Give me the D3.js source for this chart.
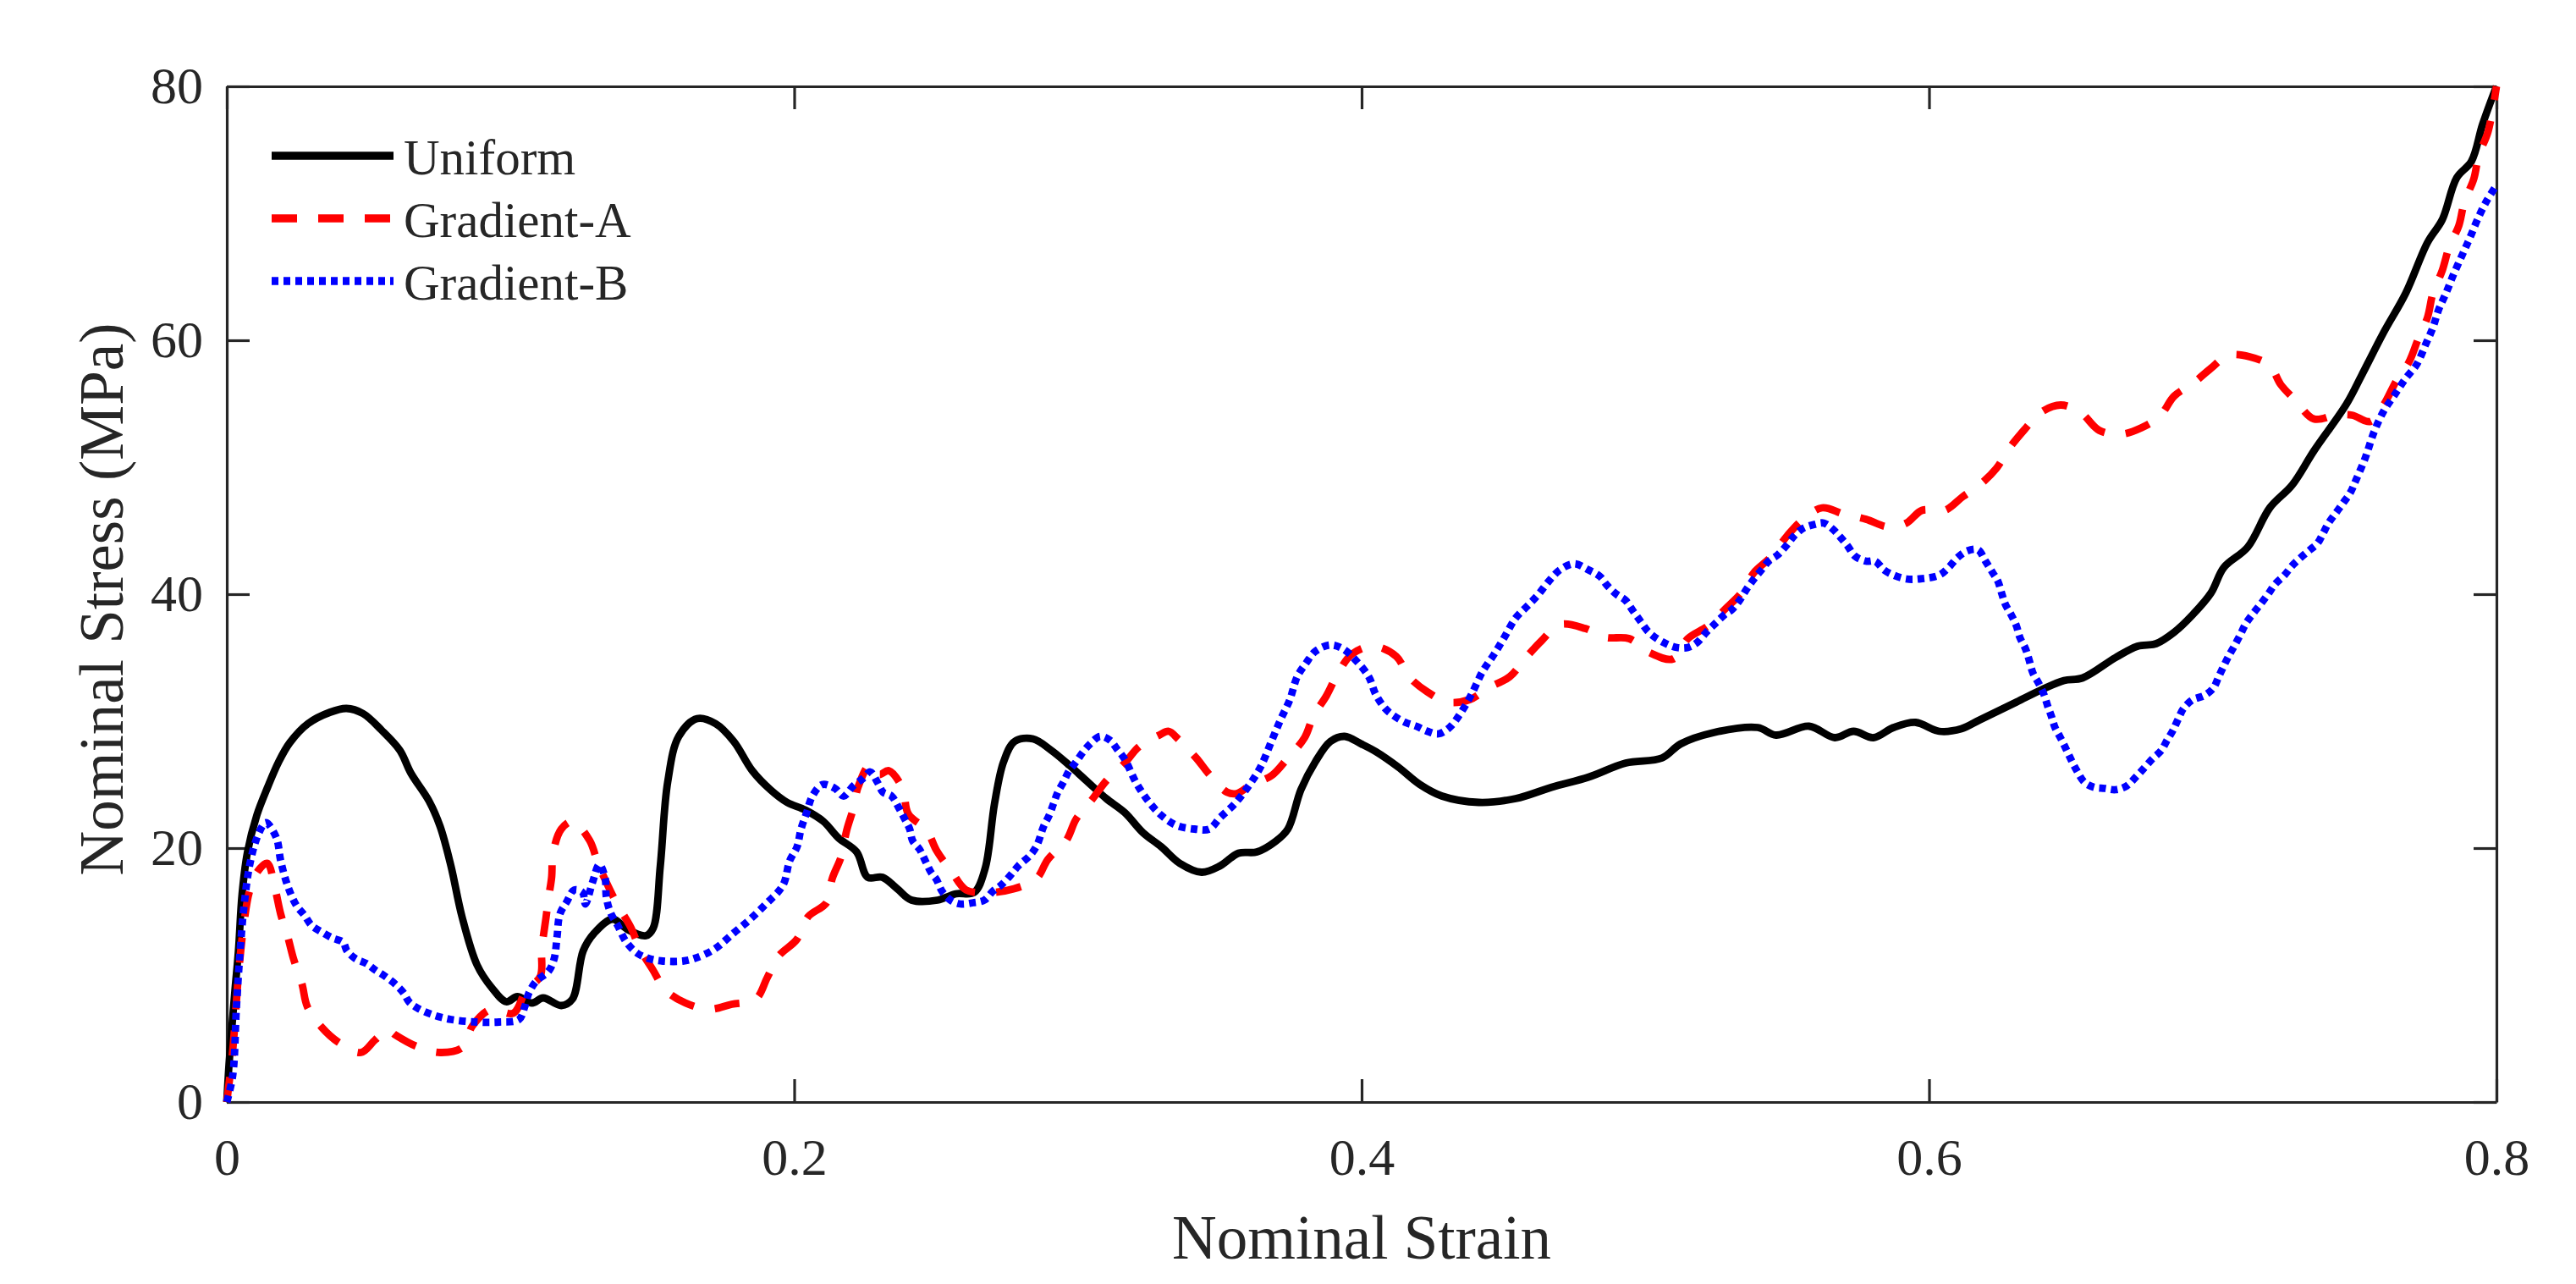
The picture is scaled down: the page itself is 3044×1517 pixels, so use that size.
<!DOCTYPE html>
<html>
<head>
<meta charset="utf-8">
<script src="https://cdn.jsdelivr.net/npm/d3@7/dist/d3.min.js"></script>
<style>
  html, body { margin: 0; padding: 0; background: #ffffff; }
  svg { display: block; }
  text { font-family: "Liberation Serif", "Times New Roman", "DejaVu Serif", serif; fill: #262626; }
</style>
</head>
<body>
<svg id="chart" width="3044" height="1517"></svg>
<script>
// ---------------- data ----------------
const xTicks = [0, 0.2, 0.4, 0.6, 0.8];
const yTicks = [0, 20, 40, 60, 80];
const seriesNames = ["Uniform", "Gradient-A", "Gradient-B"];

const uniformStrain = [0,0.0008,0.0028,0.0041,0.0054,0.0073,0.0106,0.0144,0.0183,0.0222,0.0286,0.0364,0.0422,0.048,0.0545,0.061,0.0649,0.0713,0.0752,0.079,0.0829,0.0882,0.0934,0.0985,0.1024,0.1076,0.1115,0.1179,0.1218,0.1256,0.1295,0.136,0.1412,0.1477,0.1503,0.1528,0.1554,0.1593,0.1658,0.1723,0.1787,0.1852,0.1916,0.1975,0.2039,0.2103,0.2156,0.222,0.2259,0.2311,0.2363,0.2414,0.2505,0.257,0.2634,0.2673,0.2706,0.2738,0.2777,0.2842,0.2906,0.2971,0.3035,0.31,0.3165,0.323,0.3294,0.3359,0.3436,0.3501,0.3566,0.3631,0.3695,0.374,0.3786,0.3837,0.389,0.394,0.3999,0.405,0.4128,0.4206,0.4283,0.4413,0.4543,0.4671,0.4801,0.4931,0.5059,0.5124,0.5241,0.5396,0.5461,0.5577,0.5668,0.5734,0.5804,0.5875,0.5953,0.6036,0.6114,0.6179,0.6308,0.6399,0.6476,0.6541,0.6657,0.6735,0.68,0.6864,0.693,0.6994,0.7039,0.7123,0.7201,0.728,0.7357,0.7472,0.7524,0.7602,0.768,0.7757,0.7809,0.786,0.7912,0.7951,0.8];
const uniformStress = [0,3.0,8.6,11.9,16.4,19.7,22.6,24.8,26.8,28.3,29.8,30.7,31.0,30.6,29.3,27.7,25.9,23.7,21.7,18.6,14.6,10.8,9.0,7.9,8.3,7.8,8.2,7.6,8.1,11.9,13.3,14.4,13.6,13.1,13.7,18.6,25.2,28.8,30.2,29.8,28.4,26.1,24.6,23.6,23.0,22.1,20.8,19.7,17.7,17.7,16.8,15.9,15.9,16.4,16.5,18.4,23.5,26.8,28.4,28.6,27.7,26.5,25.2,23.9,22.8,21.2,20.1,18.8,18.1,18.6,19.6,19.7,20.5,21.5,24.6,26.8,28.4,28.8,28.2,27.6,26.4,25.0,24.1,23.6,23.9,24.8,25.6,26.7,27.1,28.2,29.1,29.5,28.9,29.6,28.7,29.2,28.7,29.5,29.9,29.2,29.4,30.1,31.5,32.5,33.2,33.4,35.0,35.9,36.1,37.0,38.4,40.1,42.1,43.7,46.8,48.6,51.3,55.0,57.2,60.6,63.7,67.7,69.5,72.8,74.1,77.0,80];

const gradAStrain = [0,0.0021,0.0041,0.006,0.008,0.011,0.0143,0.017,0.019,0.0215,0.0235,0.0265,0.0284,0.0334,0.0394,0.0473,0.0523,0.0568,0.0593,0.0667,0.0752,0.0831,0.0866,0.0931,0.101,0.1055,0.1105,0.111,0.1125,0.1135,0.1145,0.115,0.1179,0.1219,0.1279,0.1308,0.1338,0.1378,0.1423,0.1458,0.1502,0.1547,0.1617,0.1701,0.178,0.1864,0.1905,0.1945,0.2009,0.2049,0.2114,0.2134,0.2165,0.2185,0.2208,0.2225,0.2268,0.23,0.2333,0.2382,0.2402,0.2467,0.2502,0.2556,0.2606,0.2686,0.2775,0.2854,0.2894,0.2959,0.2994,0.3049,0.31,0.3165,0.3216,0.3287,0.332,0.3353,0.3417,0.3463,0.3526,0.356,0.3611,0.3682,0.374,0.3799,0.383,0.3876,0.3915,0.3967,0.4044,0.4122,0.4167,0.4232,0.4303,0.4381,0.4445,0.4522,0.4575,0.4633,0.4698,0.4788,0.4859,0.4943,0.5014,0.5098,0.515,0.5221,0.528,0.5338,0.5383,0.5441,0.55,0.5551,0.5623,0.57,0.5778,0.5856,0.592,0.5975,0.6055,0.612,0.6178,0.6237,0.6283,0.6334,0.6393,0.6464,0.6535,0.66,0.6677,0.6748,0.6813,0.6864,0.693,0.6994,0.7053,0.713,0.7201,0.724,0.729,0.7357,0.7433,0.7491,0.7555,0.7602,0.7647,0.7692,0.7724,0.7757,0.7776,0.7809,0.7834,0.7867,0.7887,0.792,0.7938,0.797,0.8];
const gradAStress = [0,4.1,10.0,14.0,16.6,18.2,18.8,16.8,14.8,13.0,11.3,9.3,7.5,5.9,4.7,3.9,4.9,5.7,5.3,4.4,3.9,4.3,6.0,7.3,7.0,8.8,9.9,12.0,14.5,16.2,17.7,19.6,21.5,22.1,20.6,18.8,17.3,15.5,13.8,12.0,10.4,8.8,7.8,7.3,7.7,8.1,9.8,11.5,12.8,14.6,15.7,17.6,19.3,21.4,23.1,24.8,26.6,25.8,26.1,24.7,22.7,21.4,19.8,18.1,16.7,16.5,16.8,17.6,19.1,20.6,22.3,23.8,25.3,26.7,28.0,28.9,29.2,28.6,27.1,25.8,24.4,24.3,25.0,25.7,27.1,28.7,30.4,32.0,33.7,35.3,35.9,35.1,33.5,32.3,31.5,31.7,32.6,33.5,34.9,36.3,37.6,37.3,36.6,36.5,35.4,34.9,36.5,37.5,38.8,40.1,41.7,42.9,44.6,45.8,46.8,46.3,45.9,45.3,45.6,46.6,46.6,47.7,48.6,49.9,51.5,52.9,54.3,54.9,54.3,52.9,52.6,53.1,54.0,55.6,56.6,57.8,58.8,58.7,58.0,56.5,55.3,53.8,54.1,54.1,53.6,54.9,56.8,58.3,60.1,61.8,63.7,65.5,67.4,69.0,70.9,72.7,74.6,76.4,80];

const gradBStrain = [0,0.0021,0.0034,0.0047,0.006,0.008,0.0106,0.0131,0.014,0.0175,0.019,0.0215,0.0245,0.0274,0.0299,0.0334,0.0374,0.0409,0.0424,0.0453,0.0493,0.0523,0.0558,0.0593,0.0623,0.0642,0.0672,0.0722,0.0791,0.0881,0.096,0.103,0.105,0.1065,0.109,0.1134,0.1154,0.1164,0.1174,0.1199,0.1224,0.1254,0.1264,0.1289,0.1313,0.1333,0.1338,0.1353,0.1378,0.1408,0.1448,0.1488,0.1537,0.1607,0.1647,0.1716,0.1786,0.1845,0.1905,0.1945,0.1965,0.1984,0.201,0.2024,0.2044,0.2064,0.2099,0.2144,0.2174,0.2208,0.2243,0.2268,0.2293,0.2313,0.2343,0.2368,0.2387,0.2407,0.2417,0.2442,0.2462,0.2482,0.2502,0.2521,0.2551,0.2586,0.2631,0.267,0.27,0.273,0.276,0.279,0.283,0.2855,0.2879,0.2899,0.2914,0.2929,0.2949,0.2969,0.2994,0.3019,0.3043,0.3078,0.3113,0.3138,0.3165,0.3204,0.3248,0.3293,0.3346,0.3411,0.3463,0.3501,0.3553,0.3605,0.3644,0.3682,0.3714,0.3747,0.3773,0.3805,0.3837,0.389,0.3934,0.3979,0.4025,0.405,0.4083,0.4115,0.4154,0.4193,0.4232,0.4271,0.431,0.4348,0.4387,0.4426,0.4465,0.4503,0.4542,0.4581,0.462,0.4659,0.4698,0.4749,0.4801,0.484,0.4865,0.4898,0.4931,0.4956,0.4982,0.5008,0.5034,0.5073,0.5111,0.515,0.5183,0.5215,0.5247,0.528,0.5306,0.5332,0.5357,0.5383,0.5409,0.5435,0.5467,0.55,0.5525,0.5557,0.5597,0.5629,0.5662,0.5687,0.5713,0.5739,0.5778,0.581,0.5842,0.5875,0.592,0.5966,0.6036,0.6069,0.6101,0.6134,0.6172,0.6199,0.6224,0.6243,0.6257,0.6269,0.6289,0.6308,0.632,0.634,0.6353,0.6366,0.6386,0.6405,0.6418,0.6431,0.6444,0.6463,0.6483,0.6502,0.6521,0.6547,0.658,0.6619,0.6658,0.6697,0.6729,0.6754,0.6786,0.6819,0.6839,0.6858,0.6877,0.6897,0.693,0.6969,0.7002,0.7021,0.704,0.7058,0.7078,0.7097,0.7117,0.7143,0.7168,0.7195,0.722,0.7253,0.7278,0.7311,0.7343,0.7369,0.7389,0.7408,0.7434,0.746,0.7485,0.7505,0.7537,0.7569,0.7602,0.7641,0.768,0.7719,0.7751,0.7776,0.7796,0.7822,0.7849,0.7881,0.7907,0.7933,0.7966,0.8];
const gradBStress = [0,2.1,7.5,11.9,15.3,18.6,20.8,21.9,22.0,20.8,19.0,17.0,15.5,14.7,13.9,13.4,12.9,12.6,11.9,11.3,10.9,10.4,9.9,9.3,8.6,7.9,7.4,6.9,6.5,6.3,6.3,6.5,7.5,8.6,9.5,10.3,11.3,13.0,14.8,15.8,16.7,16.5,15.6,17.3,18.7,17.7,16.1,14.9,13.9,12.6,11.7,11.3,11.1,11.1,11.3,12.0,13.3,14.4,15.7,16.6,17.3,19.0,20.1,21.5,22.8,24.1,25.0,24.7,24.1,24.9,25.5,26.0,25.2,24.4,24.1,23.2,22.4,21.5,20.6,19.9,19.0,18.1,17.5,16.6,15.9,15.6,15.7,15.9,16.6,17.1,17.8,18.6,19.4,20.2,21.7,22.6,23.5,24.4,25.2,26.1,26.8,27.6,28.2,28.8,28.5,27.8,27.0,25.2,23.7,22.6,21.8,21.5,21.5,22.4,23.5,25.0,26.4,28.4,30.1,31.7,33.5,34.6,35.5,36.0,35.7,34.8,33.5,32.1,31.0,30.4,29.9,29.6,29.2,29.0,29.5,30.6,32.1,33.9,35.2,36.6,38.1,39.0,39.9,41.0,41.9,42.4,41.9,41.4,40.7,40.0,39.5,38.7,37.9,37.1,36.6,36.1,35.8,35.8,36.2,37.0,37.7,38.4,38.8,39.5,40.4,41.2,41.9,42.6,43.1,43.9,44.6,45.2,45.5,45.6,45.1,44.5,43.8,43.0,42.6,42.6,41.9,41.5,41.2,41.2,41.5,42.1,42.9,43.4,43.5,42.6,41.7,41.0,40.0,39.2,38.4,37.5,36.6,35.7,34.8,33.8,33.0,32.1,31.2,30.4,29.5,28.7,27.8,26.9,26.1,25.2,24.8,24.7,24.6,24.9,25.6,26.2,27.0,27.7,28.5,29.2,30.1,31.0,31.7,32.0,32.6,33.5,34.4,35.2,36.0,36.8,37.7,38.5,39.2,40.0,40.8,41.5,42.2,42.9,43.5,44.0,44.8,45.6,46.4,47.2,48.0,49.0,50.7,52.8,54.4,55.7,57.0,58.1,59.7,61.0,62.4,63.7,65.2,66.8,68.1,69.5,71.0,72.2];

// ---------------- layout ----------------
const svg = d3.select("#chart");
const W = 3044, H = 1517;
const L = 268, R = 2950, T = 102, B = 1302;
const axisColor = "#262626";
const tickLen = 27;

svg.append("rect").attr("width", W).attr("height", H).attr("fill", "#ffffff");

const x = d3.scaleLinear().domain([0, 0.8]).range([L, R]);
const y = d3.scaleLinear().domain([0, 80]).range([B, T]);

const fmtX = d => d === 0 ? "0" : d3.format(".1f")(d);

// bottom axis with labels
const gx = svg.append("g").attr("transform", `translate(0,${B})`)
  .call(d3.axisBottom(x).tickValues(xTicks).tickFormat(fmtX)
        .tickSizeInner(-tickLen).tickSizeOuter(0).tickPadding(42));
// top axis (ticks only)
const gxt = svg.append("g").attr("transform", `translate(0,${T})`)
  .call(d3.axisTop(x).tickValues(xTicks).tickFormat("")
        .tickSizeInner(-tickLen).tickSizeOuter(0));
// left axis with labels
const gy = svg.append("g").attr("transform", `translate(${L},0)`)
  .call(d3.axisLeft(y).tickValues(yTicks).tickFormat(d3.format("d"))
        .tickSizeInner(-tickLen).tickSizeOuter(0).tickPadding(28));
// right axis (ticks only)
const gyr = svg.append("g").attr("transform", `translate(${R},0)`)
  .call(d3.axisRight(y).tickValues(yTicks).tickFormat("")
        .tickSizeInner(-tickLen).tickSizeOuter(0));

[gx, gxt, gy, gyr].forEach(g => {
  g.select(".domain").attr("stroke", axisColor).attr("stroke-width", 3.2);
  g.selectAll(".tick line").attr("stroke", axisColor).attr("stroke-width", 3.2);
  g.selectAll(".tick text")
    .attr("font-family", '"Liberation Serif", "Times New Roman", serif')
    .attr("font-size", 62).attr("fill", axisColor);
});

// ---------------- lines ----------------
const line = d3.line()
  .x(d => x(d[0])).y(d => y(d[1]))
  .curve(d3.curveCatmullRom.alpha(0.5));

const series = [
  { name: seriesNames[0], data: d3.zip(uniformStrain, uniformStress), color: "#000000", dash: null },
  { name: seriesNames[1], data: d3.zip(gradAStrain, gradAStress), color: "#ff0000", dash: "30,25" },
  { name: seriesNames[2], data: d3.zip(gradBStrain, gradBStress), color: "#0000ff", dash: "8,6" }
];

const lw = 8.8;
series.forEach(s => {
  svg.append("path")
    .datum(s.data)
    .attr("d", line)
    .attr("fill", "none")
    .attr("stroke", s.color)
    .attr("stroke-width", lw)
    .attr("stroke-linejoin", "round")
    .attr("stroke-linecap", "butt")
    .attr("stroke-dasharray", s.dash);
});

// ---------------- legend ----------------
const legX1 = 321, legX2 = 465, legTextX = 477;
const legY = [184, 258, 332];
series.forEach((s, i) => {
  svg.append("line")
    .attr("x1", legX1).attr("x2", legX2)
    .attr("y1", legY[i]).attr("y2", legY[i])
    .attr("stroke", s.color).attr("stroke-width", 9.5)
    .attr("stroke-dasharray", s.dash);
  svg.append("text")
    .attr("x", legTextX).attr("y", legY[i] + 22)
    .attr("font-size", 59).attr("fill", "#000000")
    .text(s.name);
});

// ---------------- axis titles ----------------
svg.append("text")
  .attr("x", (L + R) / 2).attr("y", 1487)
  .attr("text-anchor", "middle")
  .attr("font-size", 73).attr("fill", axisColor)
  .text("Nominal Strain");

svg.append("text")
  .attr("transform", `translate(145,708) rotate(-90)`)
  .attr("text-anchor", "middle")
  .attr("font-size", 73).attr("fill", axisColor)
  .text("Nominal Stress (MPa)");
</script>
</body>
</html>
